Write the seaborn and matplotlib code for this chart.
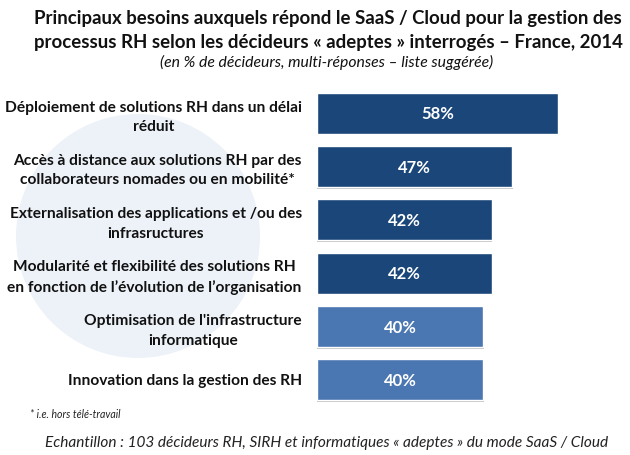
import matplotlib
matplotlib.use("Agg")
import matplotlib.pyplot as plt
import matplotlib.patheffects as pe
from matplotlib.patches import Ellipse
import seaborn as sns
import pandas as pd

categories = [
    "Déploiement de solutions RH dans un délai\nréduit",
    "Accès à distance aux solutions RH par des\ncollaborateurs nomades ou en mobilité*",
    "Externalisation des applications et /ou des\ninfrasructures",
    "Modularité et flexibilité des solutions RH\nen fonction de l’évolution de l’organisation",
    "Optimisation de l'infrastructure\ninformatique",
    "Innovation dans la gestion des RH",
]
values = [58, 47, 42, 42, 40, 40]
groups = ["haut", "haut", "haut", "haut", "bas", "bas"]
palette = {"haut": "#1b4679", "bas": "#4a76b2"}
title = ("Principaux besoins auxquels répond le SaaS / Cloud pour la gestion des\n"
         "processus RH selon les décideurs « adeptes » interrogés – France, 2014")
subtitle = "(en % de décideurs, multi-réponses – liste suggérée)"
footnote = "* i.e. hors télé-travail"
sample = "Echantillon : 103 décideurs RH, SIRH et informatiques « adeptes » du mode SaaS / Cloud"

sns.set_theme(style="white")
plt.rcParams["font.family"] = ["Lato", "DejaVu Sans"]

W, H = 630, 455
fig = plt.figure(figsize=(W / 100, H / 100), dpi=100, facecolor="white")

fig.add_artist(Ellipse((138 / W, 1 - 236 / H), 244 / W, 244 / H,
                       transform=fig.transFigure, facecolor="#edf2f8",
                       edgecolor="none", zorder=0))

ax = fig.add_axes([317 / W, 1 - 406.5 / H, 291 / W, 320 / H])
ax.patch.set_alpha(0)
df = pd.DataFrame({"cat": categories, "val": values, "grp": groups})
sns.barplot(data=df, x="val", y="cat", hue="grp", palette=palette, dodge=False,
            width=0.77, legend=False, saturation=1, ax=ax)
ax.set_xlim(0, 70)
ax.set_ylim(5.5, -0.5)
ax.set_xlabel("")
ax.set_ylabel("")
ax.set_xticks([])
sns.despine(ax=ax, left=True, bottom=True)
ax.tick_params(axis="y", length=0, pad=11)
for lab in ax.get_yticklabels():
    lab.set_fontsize(11.2)
    lab.set_fontweight("bold")
    lab.set_color("#111111")
    lab.set_multialignment("center")
    lab.set_linespacing(1.5)

for patch, v in zip(ax.patches, values):
    patch.set_path_effects([pe.SimplePatchShadow(offset=(0.3, -1.2), shadow_rgbFace="#9a9a9a", alpha=0.6),
                            pe.Normal()])
    ax.text(v / 2, patch.get_y() + patch.get_height() / 2 + 0.02, f"{v}%",
            ha="center", va="center", color="white", fontsize=12, fontweight="bold")

fig.text(328 / W, 1 - 30.5 / H, title, ha="center", va="center", fontsize=13.4,
         fontweight="bold", color="#111111", linespacing=1.5)
fig.text(327 / W, 1 - 62 / H, subtitle, ha="center", va="center", fontsize=11.3,
         style="italic", color="#111111")
fig.text(30 / W, 1 - 414 / H, footnote, ha="left", va="center", fontsize=7.6,
         style="italic", color="#222222")
fig.text(45 / W, 1 - 443 / H, sample, ha="left", va="center", fontsize=11.1,
         style="italic", color="#222222")

fig.savefig("out.png", dpi=100)
